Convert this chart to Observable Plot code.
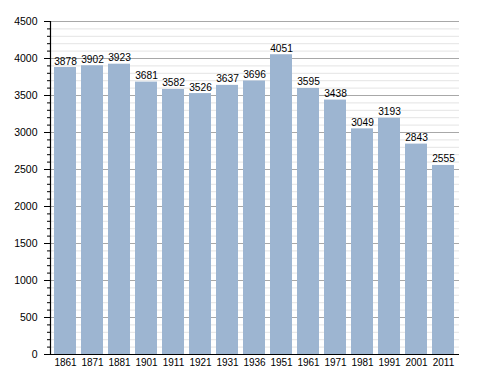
<!DOCTYPE html>
<html><head><meta charset="utf-8">
<script src="https://cdn.jsdelivr.net/npm/d3@7"></script>
<script src="https://cdn.jsdelivr.net/npm/@observablehq/plot@0.6"></script>
<style>body{margin:0;background:#fff;} svg{display:block;}</style>
</head><body><div id="chart"></div>
<script>
const years = ["1861","1871","1881","1901","1911","1921","1931","1936","1951","1961","1971","1981","1991","2001","2011"];
const population = [3878,3902,3923,3681,3582,3526,3637,3696,4051,3595,3438,3049,3193,2843,2555];
const yMajorTicks = [0,500,1000,1500,2000,2500,3000,3500,4000,4500];
const yMinorTicks = d3.range(0, 4501, 100);

const data = years.map((y, i) => ({year: y, value: population[i]}));

function leftAxisLine(index, scales, values, dimensions) {
  const {marginLeft} = dimensions;
  const x = marginLeft + 1.5;
  return d3.create("svg:line")
    .attr("x1", x).attr("x2", x)
    .attr("y1", scales.y(0) + 0.5).attr("y2", scales.y(4500))
    .attr("stroke", "#000").attr("stroke-width", 1.2)
    .node();
}

const chart = Plot.plot({
  width: 488, height: 373,
  marginTop: 21, marginBottom: 19, marginLeft: 49, marginRight: 29,
  style: {fontFamily: "'Liberation Sans', Arial, sans-serif", fontSize: "10px", color: "#000", background: "#fff"},
  x: {domain: years, paddingInner: 0.2, paddingOuter: 0, label: null},
  y: {domain: [0, 4500], label: null},
  marks: [
    Plot.ruleY(yMinorTicks, {stroke: "#e4e4e4", strokeWidth: 1}),
    Plot.ruleY(yMajorTicks, {stroke: "#a8a8a8", strokeWidth: 1}),
    Plot.barY(data, {x: "year", y: "value", fill: "#9db5d1"}),
    Plot.text(data, {x: "year", y: "value", text: d => String(d.value), lineAnchor: "bottom", dy: -3, fill: "#000", fontSize: 10.2}),
    Plot.axisY({ticks: yMinorTicks, tickSize: 3, tickFormat: () => "", stroke: "#000", dx: 1}),
    Plot.axisY({ticks: yMajorTicks, tickSize: 6, tickPadding: 7, tickFormat: d => String(d), stroke: "#000", fill: "#000", fontSize: 10.5, label: null, dx: 1}),
    Plot.axisX({tickSize: 0, tickPadding: 4, fill: "#000", label: null, fontSize: 10}),
    Plot.ruleY([0], {stroke: "#000"}),
    leftAxisLine
  ]
});
document.getElementById("chart").appendChild(chart);
</script>
</body></html>
